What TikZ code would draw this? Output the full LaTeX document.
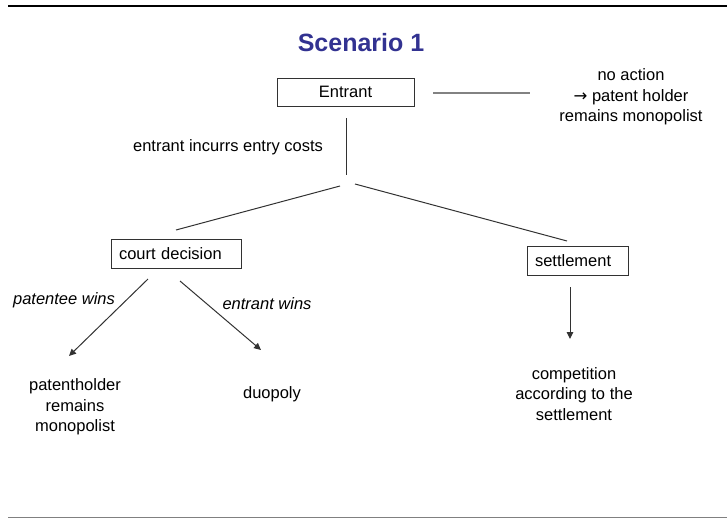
\documentclass[tikz,border=0pt]{standalone}
\usepackage{fontspec}
\setmainfont{Liberation Sans}
\newfontfamily\arrowfont{DejaVu Sans}
\usetikzlibrary{arrows.meta,calc}
\definecolor{titleblue}{RGB}{50,50,145}
\definecolor{linegray}{RGB}{50,50,50}
\definecolor{midgray}{RGB}{130,130,130}
\begin{document}
\begin{tikzpicture}[x=1pt,y=-1pt,
  txt/.style={font=\fontsize{16.5}{20.5}\selectfont, inner sep=0pt, align=center},
  boxnode/.style={draw=linegray, line width=0.9pt, font=\fontsize{16.5}{20.5}\selectfont,
    text height=11pt, text depth=-3.5pt},
  conn/.style={draw=linegray, line width=1pt},
  arr/.style={conn, -{Triangle[length=7pt,width=6.5pt]}},
  rule/.style={line width=2.2pt}]
\useasboundingbox (0,0) rectangle (727,519);
% rules
\coordinate (tl) at (8,5.7);
\coordinate (tr) at (727,5.7);
\coordinate (bl) at (8,517.5);
\coordinate (br) at (727,517.5);
\draw[rule] (tl) -- (tr);
\draw[line width=1.5pt, draw=gray] (bl) -- (br);
% title
\node[txt, font=\fontsize{25}{30}\selectfont\bfseries, text=titleblue] (title) at (361,43) {Scenario 1};
% nodes
\node[boxnode, minimum width=137pt, minimum height=28pt] (entrant) at (345.5,92) {Entrant};
\node[txt] (noaction) at (631,97) {no action\\{\arrowfont →} patent holder\\remains monopolist};
\node[txt] (costs) at (228,147) {entrant incurrs entry costs};
\node[boxnode, minimum height=29pt, text width=114pt, inner xsep=8pt, align=left] (court) at (176,253.5) {court decision};
\node[boxnode, minimum height=29pt, text width=85pt, inner xsep=8pt, align=left] (settle) at (577.5,260.5) {settlement};
\node[txt, font=\fontsize{16.5}{20.5}\selectfont\itshape] (pwins) at (64,300) {patentee wins};
\node[txt, font=\fontsize{16.5}{20.5}\selectfont\itshape] (ewins) at (267,304) {entrant wins};
\node[txt] (mono) at (75,407) {patentholder\\remains\\monopolist};
\node[txt] (duo) at (272,394) {duopoly};
\node[txt] (comp) at (574,394) {competition\\according to the\\settlement};
% connector end points
\coordinate (noA) at (433,93);
\coordinate (noB) at (530,93);
\coordinate (vtop) at (346,118);
\coordinate (vbot) at (346,175);
\coordinate (lA) at (340,186);
\coordinate (lB) at (176,230);
\coordinate (rA) at (355,184);
\coordinate (rB) at (567,241);
\coordinate (pA) at (148,279);
\coordinate (pB) at (69,356);
\coordinate (eA) at (180,281);
\coordinate (eB) at (261,350);
\coordinate (sA) at (570,287);
\coordinate (sB) at (570,339);
% connectors
\draw[draw=midgray, line width=1.8pt] (noA) -- (noB);
\draw[conn] (vtop) -- (vbot);
\draw[conn] (lA) -- (lB);
\draw[conn] (rA) -- (rB);
\draw[arr] (pA) -- (pB);
\draw[arr] (eA) -- (eB);
\draw[arr] (sA) -- (sB);
\end{tikzpicture}
\end{document}
